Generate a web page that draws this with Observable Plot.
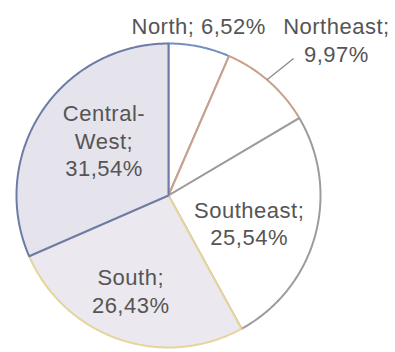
<!DOCTYPE html>
<html>
<head>
<meta charset="utf-8">
<script src="https://cdn.jsdelivr.net/npm/d3@7"></script>
<script src="https://cdn.jsdelivr.net/npm/@observablehq/plot@0.6"></script>
<style>
  html, body { margin: 0; padding: 0; background: #ffffff; }
</style>
</head>
<body>
<div id="chart"></div>
<script>
// ---- data ----
const regions = ["North", "Northeast", "Southeast", "South", "Central-West"];
const shares = [6.52, 9.97, 25.54, 26.43, 31.54];
const labelTexts = ["North; 6,52%", "Northeast;\n9,97%", "Southeast;\n25,54%", "South;\n26,43%", "Central-\nWest;\n31,54%"];

// ---- styles / layout ----
const fills = ["#ffffff", "#ffffff", "#ffffff", "#ebe9ef", "#e5e3ec"];
const strokes = ["#7390c0", "#c9a08c", "#9c9c9c", "#e6d49a", "#6c7ca6"];
const labelRadius = [1.14, 1.51, 0.56, 0.67, 0.56];   // fraction of radius
const labelTurn = [-1.7, 5.6, 3.3, 2.9, 7.5];        // degrees offset from mid-angle

const total = d3.sum(shares);
let cum = 0;
const slices = regions.map((r, i) => {
  const a0 = cum / total * 360;
  cum += shares[i];
  const a1 = cum / total * 360;
  return {region: r, a0, a1, mid: (a0 + a1) / 2, i};
});

const rad = (deg) => deg * Math.PI / 180;
const pt = (deg, r) => ({x: Math.sin(rad(deg)) * r, y: Math.cos(rad(deg)) * r});

// polygon points for each slice
const polyPoints = [];
slices.forEach(s => {
  polyPoints.push({region: s.region, ...pt(0, 0), i: s.i});
  const n = Math.max(2, Math.ceil((s.a1 - s.a0) / 0.5));
  for (let k = 0; k <= n; k++) {
    const a = s.a0 + (s.a1 - s.a0) * k / n;
    polyPoints.push({region: s.region, ...pt(a, 1), i: s.i});
  }
  polyPoints.push({region: s.region, ...pt(0, 0), i: s.i});
});

const labels = slices.map(s => ({
  text: labelTexts[s.i],
  ...pt(s.mid + labelTurn[s.i], labelRadius[s.i])
}));

// leader line for Northeast (from arc to label)
const ne = slices[1];
const p1 = pt(ne.mid - 1.0, 1.0), p2 = pt(ne.mid + 1.0, 1.22);
const leader = [{x1: p1.x, y1: p1.y, x2: p2.x, y2: p2.y}];

const marks = [];
slices.forEach(s => {
  marks.push(Plot.line(polyPoints.filter(p => p.i === s.i), {
    x: "x", y: "y",
    fill: fills[s.i], stroke: strokes[s.i], strokeWidth: 2,
    strokeLinejoin: "round", curve: "linear"
  }));
});
marks.push(Plot.link(leader, {x1: "x1", y1: "y1", x2: "x2", y2: "y2", stroke: "#8a8a8a", strokeWidth: 1.3}));
marks.push(Plot.text(labels, {
  x: "x", y: "y", text: "text",
  fill: "#555555", fontSize: 22, lineHeight: 1.25,
  textAnchor: "middle", lineAnchor: "middle"
}));

const chart = Plot.plot({
  width: 395,
  height: 352,
  marginLeft: 16,
  marginRight: 75,
  marginTop: 43,
  marginBottom: 5,
  x: {domain: [-1, 1], axis: null},
  y: {domain: [-1, 1], axis: null},
  style: {
    fontFamily: "'Liberation Sans', Arial, sans-serif",
    background: "#ffffff",
    letterSpacing: "0.5px",
    overflow: "visible"
  },
  marks
});
document.getElementById("chart").appendChild(chart);
</script>
</body>
</html>
